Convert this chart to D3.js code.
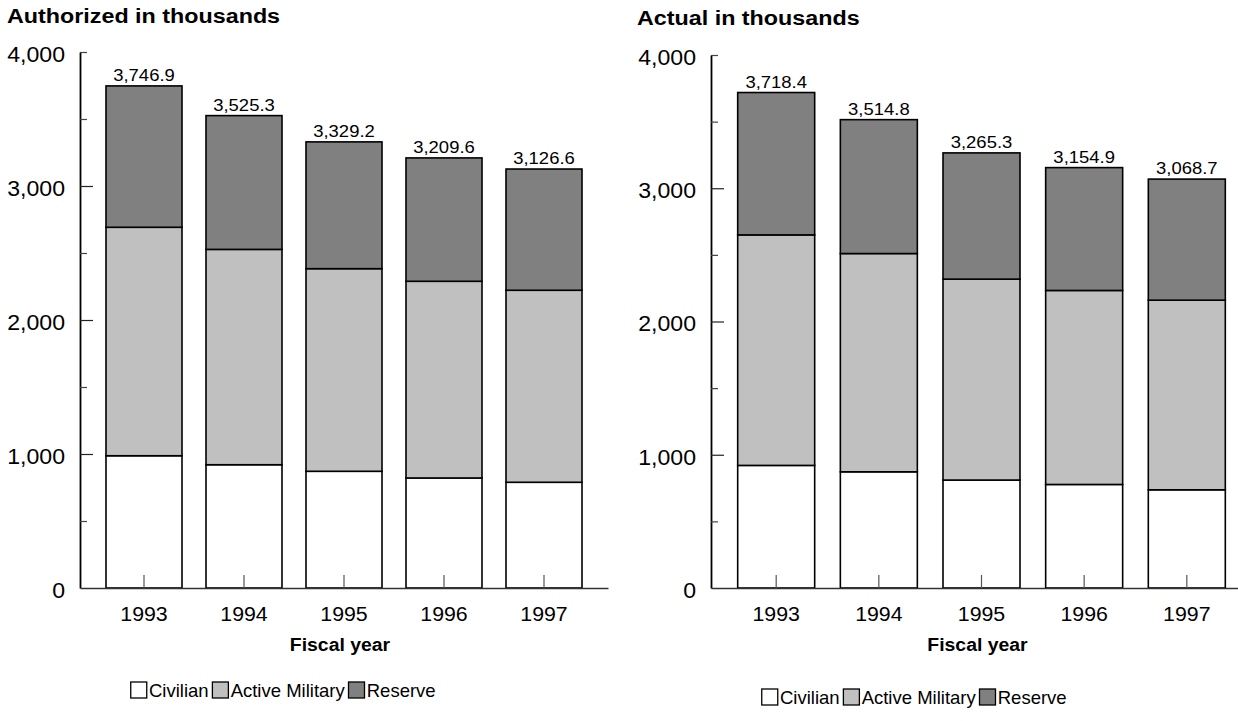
<!DOCTYPE html>
<html><head><meta charset="utf-8">
<script src="https://cdn.jsdelivr.net/npm/d3@7"></script>
<style>
body{margin:0;background:#fff}
svg{display:block}
text{font-family:"Liberation Sans",Arial,Helvetica,sans-serif;fill:#000}
</style>
</head><body>
<svg id="c" width="1238" height="721"></svg>
<script>
// ---------- data ----------
const years = ["1993","1994","1995","1996","1997"];
const seriesNames = ["Civilian","Active Military","Reserve"];
const seriesColors = ["#ffffff","#c0c0c0","#808080"];

const authCivilian = [987, 920, 871, 821, 789];
const authActive   = [1705, 1607, 1512, 1468, 1433];
const authReserve  = [1054.9, 998.3, 946.2, 920.6, 904.6];
const authTotals   = [3746.9, 3525.3, 3329.2, 3209.6, 3126.6];

const actCivilian = [920, 872, 810, 777, 737];
const actActive   = [1730, 1638, 1508, 1456, 1423];
const actReserve  = [1068.4, 1004.8, 947.3, 921.9, 908.7];
const actTotals   = [3718.4, 3514.8, 3265.3, 3154.9, 3068.7];

const yTickValues  = [0, 1000, 2000, 3000, 4000];
const yMinorValues = [500, 1500, 2500, 3500, 4000];
const yMajorInner  = [1000, 2000, 3000];
const titles = ["Authorized in thousands", "Actual in thousands"];
const xTitle = "Fiscal year";

// ---------- drawing ----------
const svg = d3.select("#c");
const fmt = d3.format(",");
const fmt1 = d3.format(",.1f");

function stretch(sel, sx){ sel.each(function(){
  const t = d3.select(this);
  const x = +t.attr("x")||0;
  t.attr("x", x/sx).attr("transform", `scale(${sx},1)`);
}); }

function addText(parent, x, y, str, size, anchor, weight, sx){
  return parent.append("text")
    .attr("transform", `translate(${x},${y}) scale(${sx},1)`)
    .attr("text-anchor", anchor||"start")
    .style("font-size", size+"px")
    .style("font-weight", weight||"normal")
    .text(str);
}

function panel(cfg){
  const g = svg.append("g");
  const x = d3.scaleBand().domain(years).range([cfg.x0, cfg.x1])
    .paddingInner(cfg.pi).paddingOuter(cfg.po);
  const y = d3.scaleLinear().domain([0, 4000]).range([cfg.yb, cfg.yt]);

  const rows = years.map((yr,i)=>({year:yr, "Civilian":cfg.civ[i], "Active Military":cfg.act[i], "Reserve":cfg.res[i]}));
  const stacked = d3.stack().keys(seriesNames)(rows);

  // bars
  g.append("g").selectAll("g").data(stacked).join("g")
    .attr("fill", (d,i)=>seriesColors[i])
    .selectAll("rect").data(d=>d).join("rect")
      .attr("x", d=>x(d.data.year))
      .attr("y", d=>y(d[1]))
      .attr("width", x.bandwidth())
      .attr("height", d=>y(d[0])-y(d[1]))
      .attr("stroke", "#000").attr("stroke-width", 1.6);

  // y axis with labels
  const yAx = g.append("g").attr("transform", `translate(${cfg.x0},0)`)
    .call(d3.axisLeft(y).tickValues(yTickValues).tickSize(0).tickPadding(15).tickFormat(fmt));
  yAx.select(".domain").attr("stroke", "#000").attr("stroke-width", 1.8);
  yAx.selectAll("text").style("font-size", "22px").attr("dy", "0.42em").call(stretch, 1.05);

  // y inner ticks
  const yMin = g.append("g").attr("transform", `translate(${cfg.x0},0)`)
    .call(d3.axisRight(y).tickValues(yMinorValues).tickSize(7).tickFormat(""));
  yMin.select(".domain").remove();
  yMin.selectAll("line").attr("stroke", "#444").attr("stroke-width", 1.2);
  const yMaj = g.append("g").attr("transform", `translate(${cfg.x0},0)`)
    .call(d3.axisRight(y).tickValues(yMajorInner).tickSize(13).tickFormat(""));
  yMaj.select(".domain").remove();
  yMaj.selectAll("line").attr("stroke", "#222").attr("stroke-width", 1.2);

  // x axis
  const xAx = g.append("g").attr("transform", `translate(0,${cfg.yb})`)
    .call(d3.axisBottom(x).tickSizeInner(-13).tickSizeOuter(0).tickPadding(18));
  xAx.select(".domain").attr("stroke", "#333").attr("stroke-width", 1.6);
  xAx.selectAll("line").attr("stroke", "#555").attr("stroke-width", 1.2);
  xAx.selectAll("text").style("font-size", "20.5px").call(stretch, 1.04);

  // totals
  g.append("g").selectAll("text").data(cfg.tot).join("text")
    .attr("transform", (d,i)=>`translate(${x(years[i])+x.bandwidth()/2},${y(d)-5}) scale(1.12,1)`)
    .attr("text-anchor", "middle")
    .style("font-size", "16.5px")
    .text(d=>fmt1(d));

  // titles
  addText(g, cfg.titleX, cfg.titleY, cfg.title, 21, "start", "bold", 1.11);
  addText(g, (x(years[0]) + x(years[4]) + x.bandwidth())/2 - 4, cfg.yb + 63, xTitle, 18.5, "middle", "bold", 1.05);

  // legend
  const lg = g.append("g").attr("transform", `translate(${cfg.legX},${cfg.legY})`);
  let cx = 0;
  seriesNames.forEach((name,i)=>{
    lg.append("rect").attr("x", cx+0.75).attr("y", -cfg.legBox/2).attr("width", cfg.legBox).attr("height", cfg.legBox)
      .attr("fill", seriesColors[i]).attr("stroke", "#000").attr("stroke-width", 1.3);
    cx += cfg.legBox + 3;
    const t = addText(lg, cx, cfg.legSize*0.36, name, cfg.legSize, "start", "normal", 1.0);
    cx += t.node().getComputedTextLength() + 3;
  });
}

panel({x0:80, x1:608, pi:0.24, po:0.26, yb:588, yt:52,
  civ:authCivilian, act:authActive, res:authReserve, tot:authTotals,
  title:titles[0], titleX:7, titleY:23, legX:130, legY:690, legBox:16, legSize:18.5});
panel({x0:711, x1:1252, pi:0.25, po:0.26, yb:588, yt:55,
  civ:actCivilian, act:actActive, res:actReserve, tot:actTotals,
  title:titles[1], titleX:637, titleY:25, legX:761, legY:697, legBox:16, legSize:18.5});
</script>
</body></html>
